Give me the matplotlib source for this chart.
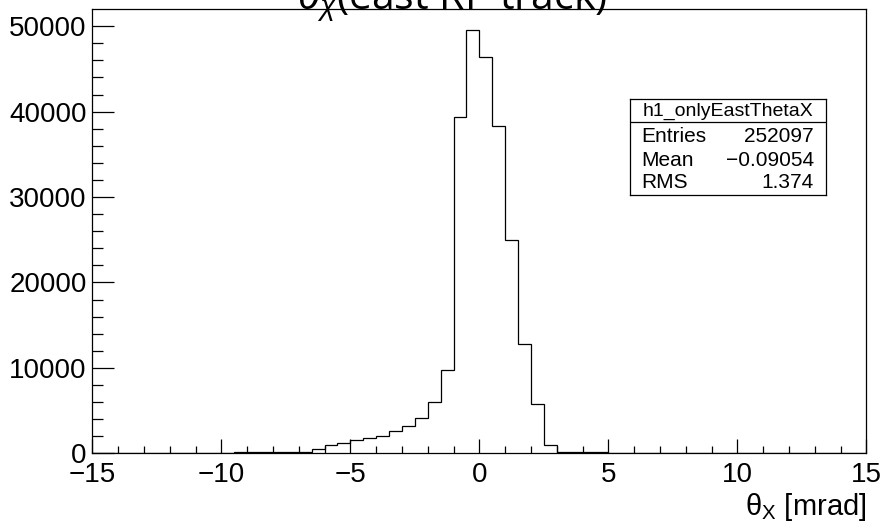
import numpy as np
import matplotlib
matplotlib.use("Agg")
import matplotlib.pyplot as plt
from matplotlib.ticker import MultipleLocator

plt.rcParams['font.family'] = ['Liberation Sans', 'DejaVu Sans']
plt.rcParams['mathtext.fontset'] = 'custom'
plt.rcParams['mathtext.rm'] = 'Liberation Sans'
plt.rcParams['mathtext.it'] = 'Liberation Sans:italic'

# бины по 0.5 мрад от -15 до 15
bin_edges = np.arange(-15, 15.0001, 0.5)
# содержимое бинов (слева направо)
counts = np.zeros(60)
tail_left = [100, 110, 110, 120, 130, 200, 550, 1020, 1250, 1560, 1790, 2070,
             2610, 3240, 4180, 5970, 9750]
core = [39400, 49500, 46350, 38300, 24950, 12750, 5730, 1000]
tail_right = [140, 120, 110, 100]
vals = tail_left + core + tail_right
first_bin = 11  # бин [-9.5, -9]
counts[first_bin:first_bin + len(vals)] = vals

hist_name = "h1_onlyEastThetaX"
stat_names = ["Entries", "Mean", "RMS"]
stat_values = ["252097", "\u22120.09054", "1.374"]

W, H = 884, 529
fig = plt.figure(figsize=(W / 100, H / 100), dpi=100)
ax = fig.add_axes([92.3 / W, 1 - 453.3 / H, (866.3 - 92.3) / W, (453.3 - 9.3) / H])

ax.stairs(counts, bin_edges, color='black', lw=0.9)
ax.set_xlim(-15, 15)
ax.set_ylim(0, 1.05 * counts.max())

ax.xaxis.set_major_locator(MultipleLocator(5))
ax.xaxis.set_minor_locator(MultipleLocator(1))
ax.yaxis.set_major_locator(MultipleLocator(10000))
ax.yaxis.set_minor_locator(MultipleLocator(2000))
ax.tick_params(axis='both', which='both', direction='in', top=False, right=False,
               labelsize=20, width=0.9, color='black')
ax.tick_params(axis='x', which='major', length=10, pad=6)
ax.tick_params(axis='x', which='minor', length=5)
ax.tick_params(axis='y', which='major', length=16, pad=4)
ax.tick_params(axis='y', which='minor', length=8)
for s in ax.spines.values():
    s.set_linewidth(0.9)

ax.set_xticklabels([f"{int(v)}".replace('-', '\u2212') for v in ax.get_xticks()])
ax.set_yticklabels([f"{int(v)}" for v in ax.get_yticks()])

# подписи
fig.text(866 / W, 1 - 515 / H, "\u03b8$_{\\mathrm{X}}$ [mrad]", ha='right',
         va='baseline', fontsize=21)
fig.text(452 / W, 1 - 10 / H, "$\\theta_{\\chi}$(east RP track)", ha='center',
         va='baseline', fontsize=29.5, family=['Open Sans', 'DejaVu Sans'])

# статистика
bx0, bx1, by0, by1 = 630, 825.7, 99.3, 195
sax = fig.add_axes([bx0 / W, 1 - by1 / H, (bx1 - bx0) / W, (by1 - by0) / H])
sax.set_xlim(0, 1)
sax.set_ylim(0, 1)
sax.set_xticks([])
sax.set_yticks([])
for s in sax.spines.values():
    s.set_linewidth(0.9)
sax.axhline((by1 - 122.3) / (by1 - by0), color='black', lw=0.9)
sax.text(0.5, (by1 - 111.7) / (by1 - by0), hist_name, ha='center', va='center', fontsize=14)
row_y = [136, 160, 182.7]
for name, val, yy in zip(stat_names, stat_values, row_y):
    yc = (by1 - yy) / (by1 - by0)
    sax.text(0.06, yc, name, ha='left', va='center', fontsize=15)
    sax.text(0.94, yc, val, ha='right', va='center', fontsize=15)

fig.savefig("out.png", dpi=100)
